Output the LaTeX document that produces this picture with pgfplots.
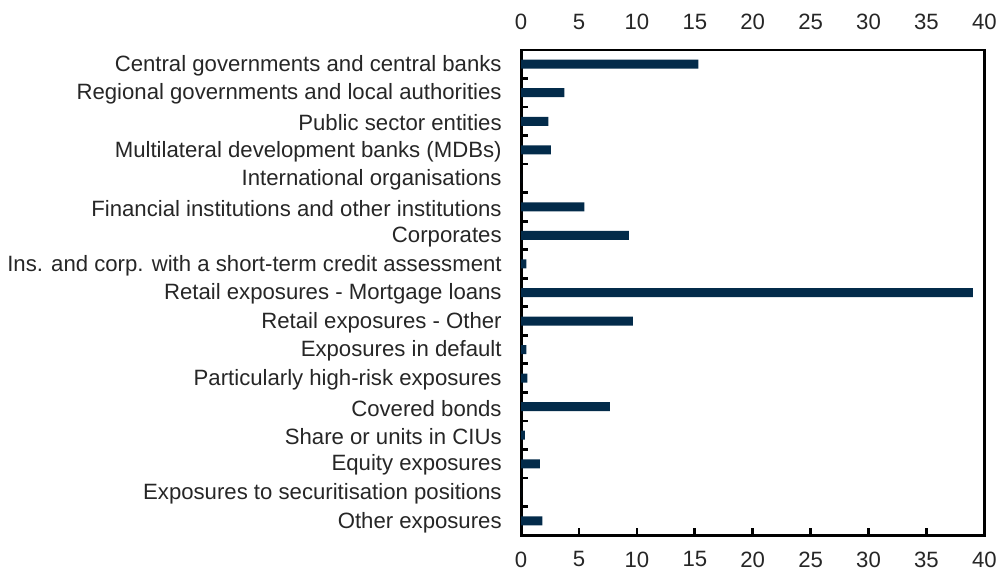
\documentclass[border=0pt]{standalone}
\usepackage{pgfplots}
\pgfplotsset{compat=1.18}
\usepackage{fontspec}
\setmainfont{Liberation Sans}
\definecolor{navy}{RGB}{3,43,74}
\pgfplotstableread{
y val
0 15.3
1 3.73
2 2.36
3 2.56
4 0
5 5.46
6 9.31
7 0.45
8 39.0
9 9.66
10 0.45
11 0.55
12 7.67
13 0.32
14 1.61
15 0
16 1.84
}\datatable
\begin{document}
\begin{tikzpicture}
\path (0,0) rectangle (1000pt,579pt);
\pgfplotsset{
  common/.style={
    scale only axis, width=464pt, height=486pt,
    xmin=0, xmax=40, ymin=-0.5, ymax=16.5, y dir=reverse,
    xtick={0,5,...,40},
    ticklabel style={font=\fontsize{22.2}{26}\selectfont, text=black!85},
    /pgf/number format/assume math mode=true,
  }
}
\begin{axis}[common,
  at={(522pt,43pt)}, anchor=south west,
  axis lines=box,
  axis line style={black, line width=2.8pt},
  xtick pos=lower, tick align=inside,
  major tick length=7pt,
  every tick/.style={line width=2.8pt, black},
  xticklabel style={yshift=-13pt},
  ytick={0.5,1.5,...,15.5},
  yticklabels={},
  extra y ticks={0,...,16},
  extra y tick labels={Central governments and central banks,
    Regional governments and local authorities,
    Public sector entities,
    Multilateral development banks (MDBs),
    International organisations,
    Financial institutions and other institutions,
    Corporates,
    Ins. and corp. with a short-term credit assessment,
    Retail exposures - Mortgage loans,
    Retail exposures - Other,
    Exposures in default,
    Particularly high-risk exposures,
    Covered bonds,
    Share or units in CIUs,
    Equity exposures,
    Exposures to securitisation positions,
    Other exposures},
  extra y tick style={major tick length=0pt, yticklabel style={xshift=-16pt, yshift=-1.5pt}},
  ytick pos=left,
]
\addplot[xbar, bar width=9pt, fill=navy, draw=none] table[x=val, y=y] {\datatable};
\end{axis}
\begin{axis}[common,
  at={(522pt,43pt)}, anchor=south west,
  axis line style={draw=none},
  hide y axis,
  xtick pos=upper, xticklabel pos=upper,
  major tick length=0pt,
  xticklabel style={yshift=17pt},
]
\addplot[draw=none] coordinates {(0,0)};
\end{axis}
\end{tikzpicture}
\end{document}
